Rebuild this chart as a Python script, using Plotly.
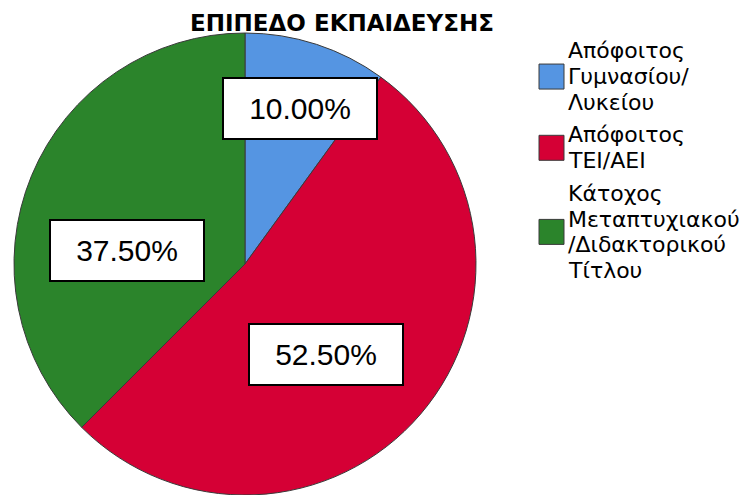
import plotly.graph_objects as go

# data
categories = ["Απόφοιτος Γυμνασίου/Λυκείου",
              "Απόφοιτος ΤΕΙ/ΑΕΙ",
              "Κάτοχος Μεταπτυχιακού/Διδακτορικού Τίτλου"]
legend_lines = [["Απόφοιτος", "Γυμνασίου/", "Λυκείου"],
                ["Απόφοιτος", "ΤΕΙ/ΑΕΙ"],
                ["Κάτοχος", "Μεταπτυχιακού", "/Διδακτορικού", "Τίτλου"]]
percents = [10.0, 52.5, 37.5]
colors = ["#5595e2", "#d50035", "#2b842b"]

W, H = 756, 495

fig = go.Figure(go.Pie(
    labels=categories,
    values=percents,
    sort=False,
    direction="clockwise",
    rotation=0,
    marker=dict(colors=colors, line=dict(color="#3a3a3a", width=1)),
    textinfo="none",
    hoverinfo="label+percent",
    showlegend=False,
    domain=dict(x=[13 / W, 477 / W], y=[0, 1 - 33 / H]),
))

# label boxes (positions)
label_pos = [(300, 109), (326, 354), (127, 250)]
for (px_, py_), v in zip(label_pos, percents):
    fig.add_annotation(
        x=px_ / W, y=1 - py_ / H, xref="paper", yref="paper",
        xanchor="center", yanchor="middle",
        text=f"{v:.2f}%", showarrow=False,
        font=dict(family="Liberation Sans, Arial", size=30, color="black"),
        bgcolor="white", bordercolor="black", borderwidth=2, borderpad=1,
        width=150, height=57,
    )

# hand-drawn legend (tight line spacing like the original)
line_h = 25.7
gap = 7
top = 38
for lines, col in zip(legend_lines, colors):
    n = len(lines)
    yc = top + n * line_h / 2
    fig.add_shape(type="rect", xref="paper", yref="paper",
                  x0=539 / W, x1=564 / W,
                  y0=1 - (yc - 12.5) / H, y1=1 - (yc + 12.5) / H,
                  fillcolor=col, line=dict(color="#3a3a3a", width=1))
    for j, t in enumerate(lines):
        ly = yc + (j - (n - 1) / 2) * line_h
        fig.add_annotation(x=566 / W, y=1 - ly / H, xref="paper", yref="paper",
                           text=t, showarrow=False, xanchor="left", yanchor="middle",
                           font=dict(family="DejaVu Sans", size=22, color="black"))
    top += n * line_h + gap

fig.update_layout(
    width=W, height=H,
    margin=dict(l=0, r=0, t=0, b=0),
    paper_bgcolor="white",
    title=dict(text="<b>ΕΠΙΠΕΔΟ ΕΚΠΑΙΔΕΥΣΗΣ</b>", x=342 / W, xanchor="center",
               y=1 - 23 / H, yanchor="middle",
               font=dict(family="DejaVu Sans", size=23, color="black")),
)

fig.write_html("out.html", config={"displayModeBar": False},
               post_script="document.body.style.margin='0';")
